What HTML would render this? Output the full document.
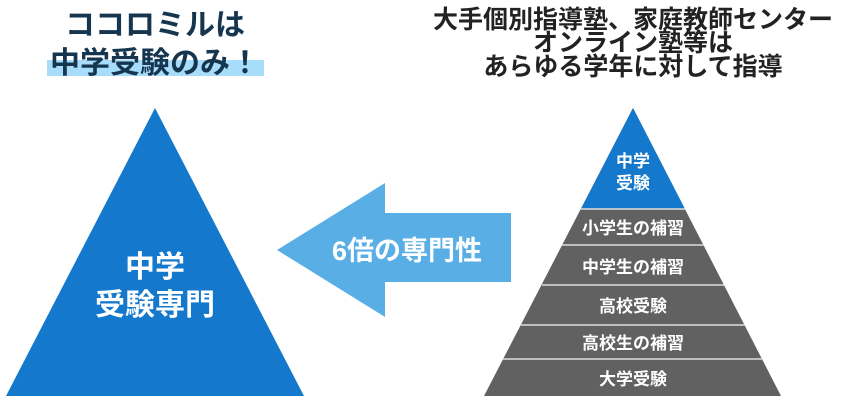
<!DOCTYPE html>
<html><head><meta charset="utf-8"><style>
body{margin:0;width:851px;height:414px;background:#fff;overflow:hidden}
svg text{font-family:"Liberation Sans","Noto Sans CJK JP",sans-serif;font-weight:bold}
</style></head><body>
<svg width="851" height="414" xmlns="http://www.w3.org/2000/svg">
<rect x="47" y="60" width="217" height="16" fill="#a8dcfb"/>
<text x="155" y="35" font-size="30" fill="#163650" text-anchor="middle">ココロミルは</text>
<text x="155" y="73" font-size="30" fill="#163650" text-anchor="middle">中学受験のみ！</text>
<text x="633" y="28" font-size="25" fill="#222" text-anchor="middle">大手個別指導塾、家庭教師センター</text>
<text x="633" y="51" font-size="25" fill="#222" text-anchor="middle">オンライン塾等は</text>
<text x="633" y="75" font-size="25" fill="#222" text-anchor="middle">あらゆる学年に対して指導</text>
<polygon points="155,108 304,396 6,396" fill="#1479cc"/>
<text x="155" y="277" font-size="30" fill="#fff" text-anchor="middle">中学</text>
<text x="155" y="315" font-size="30" fill="#fff" text-anchor="middle">受験専門</text>
<polygon points="277,250 385,183 385,213 511,213 511,282 385,282 385,317" fill="#5aaee6"/>
<text x="407" y="260" font-size="27" fill="#fff" text-anchor="middle">6倍の専門性</text>
<polygon points="633,108 781,396 484,396" fill="#616161"/>
<polygon points="633,108 685,209 581,209" fill="#1479cc"/>
<g stroke="#ddd" stroke-width="1.5">
<line x1="581" y1="209" x2="685" y2="209"/>
<line x1="562" y1="245" x2="704" y2="245"/>
<line x1="542" y1="285" x2="724" y2="285"/>
<line x1="521" y1="325" x2="745" y2="325"/>
<line x1="503" y1="359" x2="763" y2="359"/>
</g>
<g fill="#fff" font-size="17" text-anchor="middle">
<text x="633" y="167">中学</text>
<text x="633" y="189">受験</text>
<text x="633" y="234">小学生の補習</text>
<text x="633" y="273">中学生の補習</text>
<text x="633" y="312">高校受験</text>
<text x="633" y="349">高校生の補習</text>
<text x="633" y="385">大学受験</text>
</g>
</svg>
</body></html>
